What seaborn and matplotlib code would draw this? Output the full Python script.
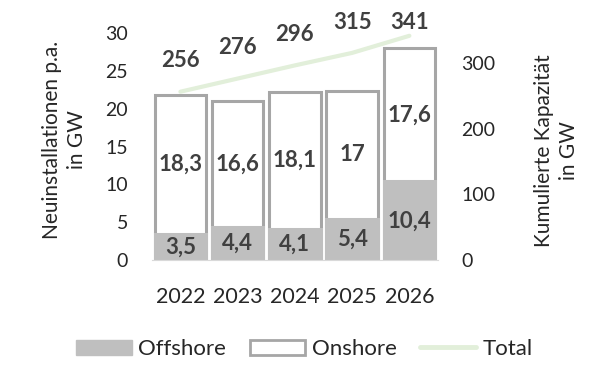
import numpy as np
import matplotlib
matplotlib.use("Agg")
import matplotlib.pyplot as plt
import seaborn as sns
import pandas as pd
from matplotlib.patches import Patch
from matplotlib.lines import Line2D

# Daten
years = ["2022", "2023", "2024", "2025", "2026"]
offshore = [3.5, 4.4, 4.1, 5.4, 10.4]
onshore = [18.3, 16.6, 18.1, 17.0, 17.6]
total = [256, 276, 296, 315, 341]

sns.set_style("white")
plt.rcParams["font.family"] = ["Lato", "DejaVu Sans"]

grey_fill = "#bfbfbf"
grey_edge = "#a6a6a6"
green = "#e2efda"
txt = "#404040"

df = pd.DataFrame({"Jahr": years, "Offshore": offshore, "Onshore": onshore, "Total": total})
df["Summe"] = df["Offshore"] + df["Onshore"]

fig = plt.figure(figsize=(6, 3.9), dpi=100)
ax = fig.add_axes([0.253, 0.333, 0.477, 0.582])

# Onshore (gestapelt: gesamte Höhe, weiß mit grauem Rand)
sns.barplot(data=df, x="Jahr", y="Summe", color="white", edgecolor=grey_edge,
            linewidth=2.2, width=0.9, saturation=1, ax=ax)
# Offshore darüber
sns.barplot(data=df, x="Jahr", y="Offshore", color=grey_fill, edgecolor=grey_fill,
            linewidth=2.2, width=0.9, saturation=1, ax=ax)

for i, (o, n) in enumerate(zip(offshore, onshore)):
    ax.text(i, o / 2, f"{o:g}".replace(".", ","), ha="center", va="center",
            fontsize=16, fontweight="bold", color=txt)
    ax.text(i, o + n / 2, f"{n:g}".replace(".", ","), ha="center", va="center",
            fontsize=16, fontweight="bold", color=txt)

ax.set_ylim(0, 30)
ax.set_xlim(-0.5, 4.5)
ax.set_yticks(range(0, 31, 5))
ax.set_xlabel("")
ax.set_ylabel("")
ax.tick_params(axis="y", length=0, pad=17, labelsize=14)
ax.tick_params(axis="x", length=0, pad=19, labelsize=15.5)
for s in ["top", "right", "left"]:
    ax.spines[s].set_visible(False)
ax.spines["bottom"].set_color("#d9d9d9")

# Kumulierte Kapazität
ax2 = ax.twinx()
sns.lineplot(x=np.arange(len(years)), y=total, color=green, linewidth=3, ax=ax2)
ax2.set_ylim(0, 345)
ax2.set_yticks([0, 100, 200, 300])
ax2.set_ylabel("")
ax2.tick_params(axis="y", length=0, pad=17, labelsize=14)
for s in ax2.spines.values():
    s.set_visible(False)
for i, t in enumerate(total):
    ax2.text(i, min(t + 47, 361), str(t), ha="center", va="center",
             fontsize=16, fontweight="bold", color=txt, clip_on=False)

fig.text(0.107, 0.641, "Neuinstallationen p.a.\nin GW", rotation=90, ha="center",
         va="center", multialignment="center", fontsize=15, linespacing=1.3)
fig.text(0.927, 0.613, "Kumulierte Kapazität\nin GW", rotation=90, ha="center",
         va="center", multialignment="center", fontsize=15, linespacing=1.3)

handles = [
    Patch(facecolor=grey_fill, edgecolor=grey_fill, label="Offshore"),
    Patch(facecolor="white", edgecolor=grey_edge, linewidth=2, label="Onshore"),
    Line2D([0], [0], color=green, linewidth=3.5, label="Total"),
]
fig.legend(handles=handles, loc="center", bbox_to_anchor=(0.507, 0.105), ncol=3,
           frameon=False, fontsize=16, handlelength=2.5, handleheight=0.65,
           columnspacing=1.05, handletextpad=0.3, borderpad=0)

fig.savefig("out.png", dpi=100)
